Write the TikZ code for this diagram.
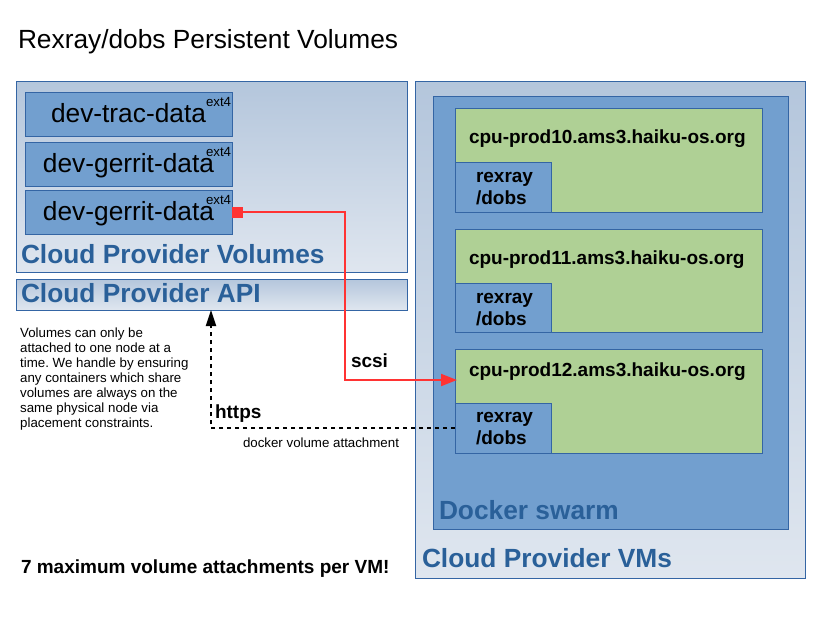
\documentclass[tikz,border=0pt]{standalone}
\usepackage{fontspec}
\setmainfont{Liberation Sans}
\usetikzlibrary{arrows.meta}
\definecolor{bord}{HTML}{3465A4}
\definecolor{volfill}{HTML}{729FCF}
\definecolor{vmfill}{HTML}{AFD095}
\definecolor{lbl}{HTML}{2A6099}
\definecolor{gtop}{HTML}{B4C6DC}
\definecolor{gbot}{HTML}{DFE6EF}
\definecolor{conred}{HTML}{FF3333}
\frenchspacing
\begin{document}
\begin{tikzpicture}[x=1pt,y=-1pt,
  rect/.style={inner sep=0pt, outer sep=0pt, anchor=north west, line width=1pt},
  panel/.style={rect, draw=bord, top color=gtop, bottom color=gbot},
  volbox/.style={rect, draw=bord, fill=volfill},
  vmbox/.style={rect, draw=bord, fill=vmfill},
  txt/.style={inner sep=0pt, outer sep=0pt, anchor=base west},
  bigreg/.style={font=\fontsize{26.3}{30}\selectfont},
  biglbl/.style={font=\fontsize{26.3}{30}\selectfont\bfseries, text=lbl},
  midbold/.style={font=\fontsize{19}{22}\selectfont\bfseries},
  small/.style={font=\fontsize{13.3}{15}\selectfont},
  redline/.style={draw=conred, line width=2pt, -{Triangle[length=16pt,width=12pt]}},
  dashline/.style={draw=black, line width=2pt, dash pattern=on 4pt off 4pt, -{Triangle[length=16pt,width=10pt]}}
]
\useasboundingbox (0,0) rectangle (816,624);
\fill[white] (0,0) rectangle (816,624);

% title
\node[txt, bigreg] (title) at (18,48) {Rexray/dobs Persistent Volumes};

% volumes panel
\node[panel, minimum width=391pt, minimum height=191pt] (volpanel) at (16,81) {};
\node[volbox, minimum width=207pt, minimum height=44pt] (v1) at (25,92) {};
\node[volbox, minimum width=207pt, minimum height=44pt] (v2) at (25,142) {};
\node[volbox, minimum width=207pt, minimum height=44pt] (v3) at (25,190) {};
\node[inner sep=0pt, anchor=base, bigreg] (v1t) at (128.5,122) {dev-trac-data};
\node[inner sep=0pt, anchor=base, bigreg] (v2t) at (128.5,172) {dev-gerrit-data};
\node[inner sep=0pt, anchor=base, bigreg] (v3t) at (128.5,220) {dev-gerrit-data};
\node[txt, small] (e1) at (206,106) {ext4};
\node[txt, small] (e2) at (206,156) {ext4};
\node[txt, small] (e3) at (206,204) {ext4};
\node[txt, biglbl] (vollbl) at (21,263) {Cloud Provider Volumes};

% API bar
\node[panel, minimum width=391pt, minimum height=31pt] (api) at (16,279) {};
\node[txt, biglbl] (apilbl) at (21,302) {Cloud Provider API};

% VMs panel
\node[panel, minimum width=390pt, minimum height=497pt] (vmpanel) at (415,81) {};
\node[volbox, minimum width=355pt, minimum height=433pt] (swarm) at (433,96) {};
\node[vmbox, minimum width=307pt, minimum height=104pt] (vm1) at (455,108) {};
\node[vmbox, minimum width=307pt, minimum height=103pt] (vm2) at (455,229) {};
\node[vmbox, minimum width=307pt, minimum height=104pt] (vm3) at (455,349) {};
\node[volbox, minimum width=96pt, minimum height=50pt] (rx1) at (455,162) {};
\node[volbox, minimum width=96pt, minimum height=49pt] (rx2) at (455,283) {};
\node[volbox, minimum width=96pt, minimum height=50pt] (rx3) at (455,403) {};
\node[txt, midbold] (vm1t) at (469,143) {cpu-prod10.ams3.haiku-os.org};
\node[txt, midbold] (vm2t) at (469,264) {cpu-prod11.ams3.haiku-os.org};
\node[txt, midbold] (vm3t) at (469,376) {cpu-prod12.ams3.haiku-os.org};
\node[txt, midbold] (rx1a) at (476,182) {rexray};
\node[txt, midbold] (rx1b) at (476,204) {/dobs};
\node[txt, midbold] (rx2a) at (476,303) {rexray};
\node[txt, midbold] (rx2b) at (476,325) {/dobs};
\node[txt, midbold] (rx3a) at (476,422) {rexray};
\node[txt, midbold] (rx3b) at (476,444) {/dobs};
\node[txt, biglbl] (swarmlbl) at (439,519) {Docker swarm};
\node[txt, biglbl] (vmlbl) at (422,567) {Cloud Provider VMs};

% note
\node[inner sep=0pt, anchor=north west, align=left, small] (note) at (20,327.3)
  {Volumes can only be\\attached to one node at a\\time. We handle by ensuring\\any containers which share\\volumes are always on the\\same physical node via\\placement constraints.};

% connectors
\node[fill=conred, minimum size=11pt, inner sep=0pt] (sq) at (237.5,212) {};
\coordinate (scsitip) at (457,380);
\draw[redline] (sq.center) -| (345,380) -- (scsitip);
\node[txt, midbold] (scsi) at (351,367) {scsi};

\coordinate (apitip) at (211,310);
\draw[dashline] (rx3.west) -| (apitip);
\node[txt, midbold] (https) at (215,418) {https};
\node[txt, small] (dva) at (243,447) {docker volume attachment};

\node[txt, midbold] (maxv) at (21,573) {7 maximum volume attachments per VM!};
\end{tikzpicture}
\end{document}
